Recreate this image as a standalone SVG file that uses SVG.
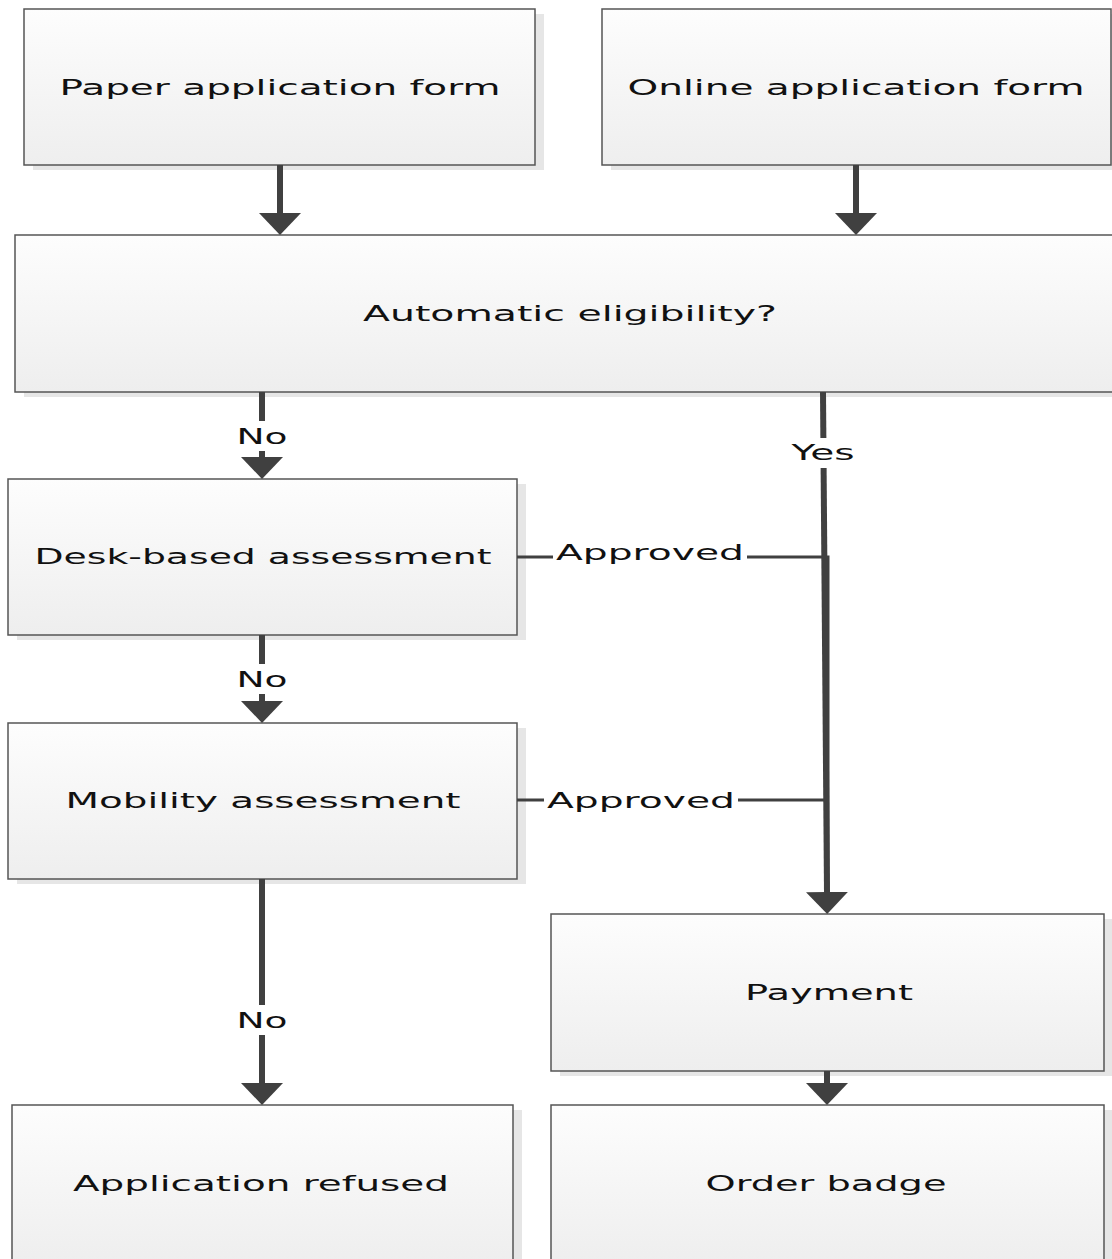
<svg xmlns="http://www.w3.org/2000/svg" width="1112" height="1259" viewBox="0 0 1112 1259">
<defs>
<linearGradient id="g" x1="0" y1="0" x2="0" y2="1">
<stop offset="0" stop-color="#fdfdfd"/>
<stop offset="1" stop-color="#eeeeee"/>
</linearGradient>
<marker id="ah" viewBox="0 0 22 42" refX="0" refY="21" markerWidth="22" markerHeight="42" markerUnits="userSpaceOnUse" orient="auto">
<path d="M0,0 L22,21 L0,42 Z" fill="#404040"/>
</marker>
<style>
.sh{fill:#e6e6e6}
.bx{fill:url(#g);stroke:#555;stroke-width:1.5}
.t{font-family:"DejaVu Sans",sans-serif;font-size:22px;fill:#111;text-anchor:middle}
.c{stroke:#404040;stroke-width:6;fill:none}
.a{stroke:#404040;stroke-width:3;fill:none}
.lb{fill:#fff}
</style>
</defs>
<rect width="1112" height="1259" fill="#fff"/>
<g id="paper">
<rect class="sh" x="33" y="14" width="511" height="156"/>
<rect class="bx" x="24" y="9" width="511" height="156"/>
<text class="t" x="280" y="95" textLength="441" lengthAdjust="spacingAndGlyphs">Paper application form</text>
</g>
<g id="online">
<rect class="sh" x="611" y="14" width="509" height="156"/>
<rect class="bx" x="602" y="9" width="509" height="156"/>
<text class="t" x="856" y="95" textLength="457" lengthAdjust="spacingAndGlyphs">Online application form</text>
</g>
<g id="eligibility">
<rect class="sh" x="24" y="240" width="1105" height="157"/>
<rect class="bx" x="15" y="235" width="1105" height="157"/>
<text class="t" x="570" y="321" textLength="414" lengthAdjust="spacingAndGlyphs">Automatic eligibility?</text>
</g>
<g id="desk">
<rect class="sh" x="17" y="484" width="509" height="156"/>
<rect class="bx" x="8" y="479" width="509" height="156"/>
<text class="t" x="263" y="564" textLength="457" lengthAdjust="spacingAndGlyphs">Desk-based assessment</text>
</g>
<g id="mobility">
<rect class="sh" x="17" y="728" width="509" height="156"/>
<rect class="bx" x="8" y="723" width="509" height="156"/>
<text class="t" x="263" y="808" textLength="395" lengthAdjust="spacingAndGlyphs">Mobility assessment</text>
</g>
<g id="payment">
<rect class="sh" x="560" y="919" width="553" height="157"/>
<rect class="bx" x="551" y="914" width="553" height="157"/>
<text class="t" x="829" y="1000" textLength="168" lengthAdjust="spacingAndGlyphs">Payment</text>
</g>
<g id="refused">
<rect class="sh" x="21" y="1110" width="501" height="160"/>
<rect class="bx" x="12" y="1105" width="501" height="160"/>
<text class="t" x="261" y="1191" textLength="376" lengthAdjust="spacingAndGlyphs">Application refused</text>
</g>
<g id="badge">
<rect class="sh" x="560" y="1110" width="553" height="160"/>
<rect class="bx" x="551" y="1105" width="553" height="160"/>
<text class="t" x="826" y="1191" textLength="241" lengthAdjust="spacingAndGlyphs">Order badge</text>
</g>
<g id="connectors">
<line class="c" x1="280" y1="165" x2="280" y2="213" marker-end="url(#ah)"/>
<line class="c" x1="856" y1="165" x2="856" y2="213" marker-end="url(#ah)"/>
<line class="c" x1="262" y1="392" x2="262" y2="457" marker-end="url(#ah)"/>
<line class="c" x1="262" y1="635" x2="262" y2="701" marker-end="url(#ah)"/>
<line class="c" x1="262" y1="879" x2="262" y2="1083" marker-end="url(#ah)"/>
<line class="c" x1="827" y1="1071" x2="827" y2="1083" marker-end="url(#ah)"/>
<path class="a" d="M517,557 H828 V892"/>
<path class="a" d="M517,800 H828"/>
<line class="c" x1="823" y1="392" x2="827" y2="892" marker-end="url(#ah)"/>
<rect class="lb" x="232" y="421" width="60" height="30"/>
<rect class="lb" x="232" y="664" width="60" height="30"/>
<rect class="lb" x="232" y="1005" width="60" height="30"/>
<rect class="lb" x="788" y="438" width="70" height="30"/>
<rect class="lb" x="553" y="537" width="194" height="30"/>
<rect class="lb" x="544" y="785" width="194" height="30"/>
<text class="t" x="262" y="444" textLength="51" lengthAdjust="spacingAndGlyphs">No</text>
<text class="t" x="262" y="687" textLength="51" lengthAdjust="spacingAndGlyphs">No</text>
<text class="t" x="262" y="1028" textLength="51" lengthAdjust="spacingAndGlyphs">No</text>
<text class="t" x="823" y="460" textLength="63" lengthAdjust="spacingAndGlyphs">Yes</text>
<text class="t" x="650" y="560" textLength="188" lengthAdjust="spacingAndGlyphs">Approved</text>
<text class="t" x="641" y="808" textLength="188" lengthAdjust="spacingAndGlyphs">Approved</text>
</g>
</svg>
